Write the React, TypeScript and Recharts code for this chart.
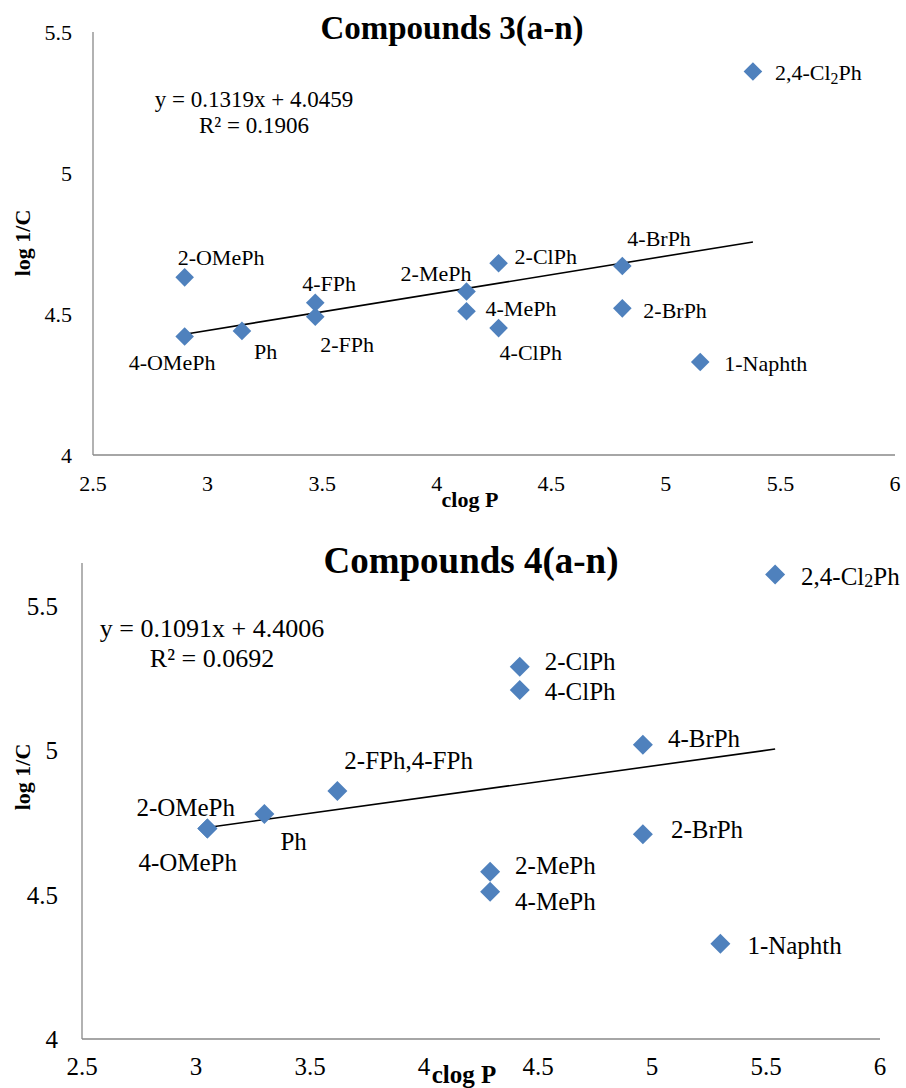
import React from 'react'
import { ScatterChart, Scatter, XAxis, YAxis, ReferenceLine } from 'recharts'

// Compounds 3(a-n)
const names3 = ['2,4-Cl2Ph', '2-OMePh', '4-OMePh', 'Ph', '4-FPh', '2-FPh', '2-MePh', '4-MePh', '2-ClPh', '4-ClPh', '4-BrPh', '2-BrPh', '1-Naphth']
const clogP3 = [5.38, 2.9, 2.9, 3.15, 3.47, 3.47, 4.13, 4.13, 4.27, 4.27, 4.81, 4.81, 5.15]
const log1C3 = [5.36, 4.63, 4.42, 4.44, 4.54, 4.49, 4.58, 4.51, 4.68, 4.45, 4.67, 4.52, 4.33]
const fit3 = { slope: 0.1319, intercept: 4.0459, r2: '0.1906' }

// Compounds 4(a-n)
const names4 = ['2,4-Cl2Ph', '2-ClPh', '4-ClPh', '4-BrPh', '2-FPh,4-FPh', '2-OMePh', '4-OMePh', 'Ph', '2-BrPh', '2-MePh', '4-MePh', '1-Naphth']
const clogP4 = [5.54, 4.42, 4.42, 4.96, 3.62, 3.05, 3.05, 3.3, 4.96, 4.29, 4.29, 5.3]
const log1C4 = [5.61, 5.29, 5.21, 5.02, 4.86, 4.73, 4.73, 4.78, 4.71, 4.58, 4.51, 4.33]
const fit4 = { slope: 0.1091, intercept: 4.4006, r2: '0.0692' }

const xTicks = [2.5, 3, 3.5, 4, 4.5, 5, 5.5, 6]
const yTicks = [4, 4.5, 5, 5.5]

// label placement: [dx, dy, anchor] relative to the marker centre
const place3: Record<string, [number, number, string]> = {
  '2,4-Cl2Ph': [22, 1, 'start'],
  '2-OMePh': [-7, -20, 'start'],
  '4-OMePh': [-56, 26, 'start'],
  'Ph': [12, 21, 'start'],
  '4-FPh': [-13, -19, 'start'],
  '2-FPh': [5, 28, 'start'],
  '2-MePh': [5, -18, 'end'],
  '4-MePh': [19, -3, 'start'],
  '2-ClPh': [16, -7, 'start'],
  '4-ClPh': [1, 24, 'start'],
  '4-BrPh': [5, -28, 'start'],
  '2-BrPh': [21, 2, 'start'],
  '1-Naphth': [24, 2, 'start'],
}
const place4: Record<string, [number, number, string]> = {
  '2,4-Cl2Ph': [26, 1, 'start'],
  '2-ClPh': [25, -5, 'start'],
  '4-ClPh': [25, 2, 'start'],
  '4-BrPh': [25, -6, 'start'],
  '2-FPh,4-FPh': [7, -30, 'start'],
  '2-OMePh': [-71, -21, 'start'],
  '4-OMePh': [-69, 34, 'start'],
  'Ph': [16, 28, 'start'],
  '2-BrPh': [28, -5, 'start'],
  '2-MePh': [25, -6, 'start'],
  '4-MePh': [25, 10, 'start'],
  '1-Naphth': [27, 2, 'start'],
}

const FONT = '"Liberation Serif", "Times New Roman", serif'
const BLUE = '#4F81BD'
const AXIS = '#898989'

function LabelText({ name }: { name: string }) {
  const i = name.indexOf('Cl2')
  if (i < 0) return <>{name}</>
  return (
    <>
      <tspan>{name.slice(0, i + 2)}</tspan>
      <tspan dy="0.32em" fontSize="0.72em">2</tspan>
      <tspan dy="-0.23em">{name.slice(i + 3)}</tspan>
    </>
  )
}

function makeShape(place: Record<string, [number, number, string]>, r: number, fontSize: number) {
  return (props: any) => {
    const { cx, cy, payload } = props
    const [dx, dy, anchor] = place[payload.name] || [20, 0, 'start']
    return (
      <g>
        <polygon points={`${cx},${cy - r} ${cx + r},${cy} ${cx},${cy + r} ${cx - r},${cy}`} fill={BLUE} />
        <text x={cx + dx} y={cy + dy} textAnchor={anchor as any} dominantBaseline="central" fontFamily={FONT} fontSize={fontSize} fill="#000">
          <LabelText name={payload.name} />
        </text>
      </g>
    )
  }
}

function makeTick(axis: 'x' | 'y', fontSize: number) {
  return (props: any) => {
    const { x, y, payload } = props
    return (
      <text x={x} y={y} dy={axis === 'x' ? '0.71em' : '0.355em'} textAnchor={axis === 'x' ? 'middle' : 'end'}
        fontFamily={FONT} fontSize={fontSize} fill="#000">
        {String(payload.value)}
      </text>
    )
  }
}

function build(names: string[], xs: number[], ys: number[]) {
  return names.map((name, i) => ({ name, x: xs[i], y: ys[i] }))
}

function Panel(props: {
  names: string[]; xs: number[]; ys: number[]; fit: { slope: number; intercept: number }
  place: Record<string, [number, number, string]>
  height: number; top: number; right: number; yWidth: number; xHeight: number
  yMax: number; tickFont: number; labelFont: number; r: number; yMargin: number; xMargin: number
}) {
  const data = build(props.names, props.xs, props.ys)
  const x0 = Math.min(...props.xs)
  const x1 = Math.max(...props.xs)
  const seg = [
    { x: x0, y: props.fit.slope * x0 + props.fit.intercept },
    { x: x1, y: props.fit.slope * x1 + props.fit.intercept },
  ]
  return (
    <ScatterChart width={906} height={props.height} margin={{ top: props.top, right: props.right, left: 0, bottom: 0 }}>
      <XAxis type="number" dataKey="x" domain={[2.5, 6]} ticks={xTicks} height={props.xHeight}
        axisLine={{ stroke: AXIS, strokeWidth: 1.3 }} tickLine={false} tickSize={0} tickMargin={props.xMargin}
        tick={makeTick('x', props.tickFont)} />
      <YAxis type="number" dataKey="y" domain={[4, props.yMax]} ticks={yTicks} width={props.yWidth}
        axisLine={{ stroke: AXIS, strokeWidth: 1.3 }} tickLine={false} tickSize={0} tickMargin={props.yMargin}
        tick={makeTick('y', props.tickFont)} />
      <ReferenceLine segment={seg} stroke="#000" strokeWidth={1.6} />
      <Scatter data={data} isAnimationActive={false} shape={makeShape(props.place, props.r, props.labelFont)} />
    </ScatterChart>
  )
}

export default function App() {
  return (
    <div style={{ position: 'absolute', left: 0, top: 0, width: 906, height: 1088, background: '#fff', fontFamily: FONT }}>
      <div style={{ position: 'absolute', left: 0, top: 0 }}>
        <Panel names={names3} xs={clogP3} ys={log1C3} fit={fit3} place={place3}
          height={520} top={32} right={11} yWidth={93} xHeight={65} yMax={5.5}
          tickFont={22} labelFont={22} r={9.3} yMargin={21} xMargin={20} />
      </div>
      <div style={{ position: 'absolute', left: 0, top: 520 }}>
        <Panel names={names4} xs={clogP4} ys={log1C4} fit={fit4} place={place4}
          height={568} top={43} right={26} yWidth={82} xHeight={49} yMax={5.65}
          tickFont={25} labelFont={25} r={10} yMargin={24} xMargin={18} />
      </div>
      <svg width={906} height={1088} style={{ position: 'absolute', left: 0, top: 0, pointerEvents: 'none' }} fontFamily={FONT}>
        <text x={452} y={39} textAnchor="middle" fontWeight="bold" fontSize={33}>Compounds 3(a-n)</text>
        <text x={254} y={107} textAnchor="middle" fontSize={23}>{`y = ${fit3.slope}x + ${fit3.intercept}`}</text>
        <text x={254} y={133} textAnchor="middle" fontSize={23}>{`R² = ${fit3.r2}`}</text>
        <text x={470} y={507} textAnchor="middle" fontWeight="bold" fontSize={22}>clog P</text>
        <text transform="translate(30,243) rotate(-90)" textAnchor="middle" fontWeight="bold" fontSize={22}>log 1/C</text>

        <text x={471} y={573} textAnchor="middle" fontWeight="bold" fontSize={37}>Compounds 4(a-n)</text>
        <text x={212} y={637} textAnchor="middle" fontSize={26}>{`y = ${fit4.slope}x + ${fit4.intercept}`}</text>
        <text x={212} y={667} textAnchor="middle" fontSize={26}>{`R² = ${fit4.r2}`}</text>
        <text x={464} y={1083} textAnchor="middle" fontWeight="bold" fontSize={25}>clog P</text>
        <text transform="translate(30,777) rotate(-90)" textAnchor="middle" fontWeight="bold" fontSize={22}>log 1/C</text>
      </svg>
    </div>
  )
}
